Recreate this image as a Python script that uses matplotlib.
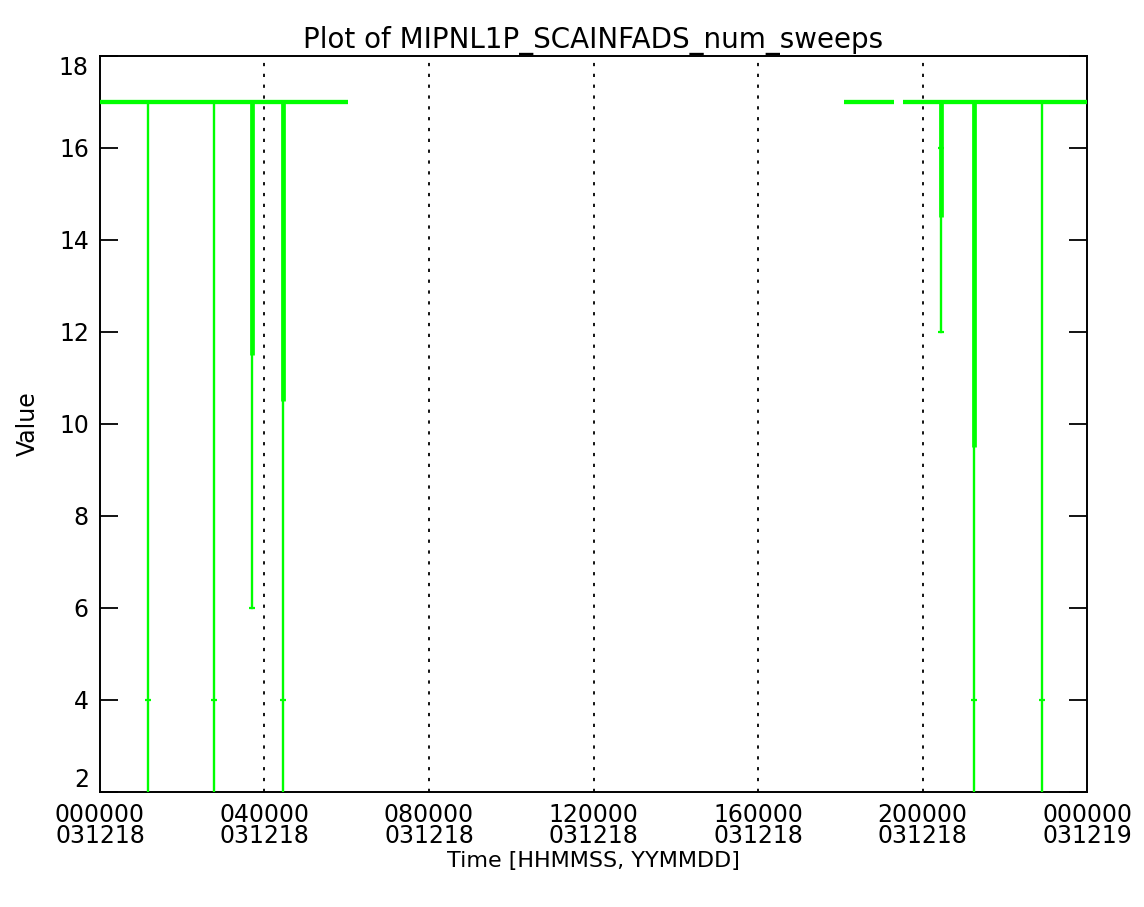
import matplotlib
matplotlib.use("Agg")
import matplotlib.pyplot as plt

# time in hours since 000000 031218
seg_start = [0.0, 18.08, 19.52]
seg_end = [6.03, 19.30, 24.0]
baseline = 17

dip_time = [1.17, 2.77, 3.70, 4.45, 20.46, 21.24, 22.90]
dip_thick_low = [17, 17, 11.5, 10.5, 14.5, 9.5, 17]
dip_low = [0, 0, 6, 0, 12, 0, 0]

mark_time = [1.17, 2.77, 4.45, 3.70, 20.46, 20.46, 21.24, 22.90]
mark_value = [4, 4, 4, 6, 16, 12, 4, 4]

xtick_hours = [0, 4, 8, 12, 16, 20, 24]
xtick_labels = ["000000\n031218", "040000\n031218", "080000\n031218",
                "120000\n031218", "160000\n031218", "200000\n031218",
                "000000\n031219"]
yticks = [2, 4, 6, 8, 10, 12, 14, 16, 18]

green = "#00ff00"
plt.rcParams['font.family'] = ['DejaVu Sans']

fig = plt.figure(figsize=(11.44, 9.07), dpi=100)
ax = fig.add_axes([0.0874, 0.1268, 0.8628, 0.8115])

# dotted time grid
for h in xtick_hours[1:-1]:
    ax.axvline(h, color="black", lw=1.3, linestyle=(0, (1.8, 4.2)), zorder=1)

# baseline segments
for s, e in zip(seg_start, seg_end):
    ax.plot([s, e], [baseline, baseline], color=green, lw=3.1,
            solid_capstyle="butt", zorder=3)

# dips: thick upper part, thin lower part
for t, tl, lo in zip(dip_time, dip_thick_low, dip_low):
    ax.plot([t, t], [baseline, lo], color=green, lw=1.7, zorder=3)
    if tl < baseline:
        ax.plot([t, t], [baseline, tl], color=green, lw=3.4,
                solid_capstyle="butt", zorder=3)

ax.plot(mark_time, mark_value, linestyle="none", marker="_",
        color=green, markersize=5, markeredgewidth=1.6, zorder=3)

ax.set_xlim(0, 24)
ax.set_ylim(2, 18)
ax.set_xticks(xtick_hours)
ax.set_xticklabels(xtick_labels, fontsize=17, linespacing=0.85)
ax.set_yticks(yticks)
ax.set_yticklabels([str(v) for v in yticks], fontsize=17)
ax.tick_params(axis="x", length=0, pad=8)
ax.tick_params(axis="y", direction="in", length=13, width=1.3,
               right=True, pad=8)
labs = ax.get_yticklabels()
labs[0].set_va("bottom")
labs[-1].set_va("top")
for sp in ax.spines.values():
    sp.set_linewidth(1.4)

ax.set_title("Plot of MIPNL1P_SCAINFADS_num_sweeps", fontsize=20, pad=6)
ax.set_xlabel("Time [HHMMSS, YYMMDD]", fontsize=16, labelpad=2)
ax.set_ylabel("Value", fontsize=17, labelpad=14)

fig.savefig("out.png", dpi=100)
